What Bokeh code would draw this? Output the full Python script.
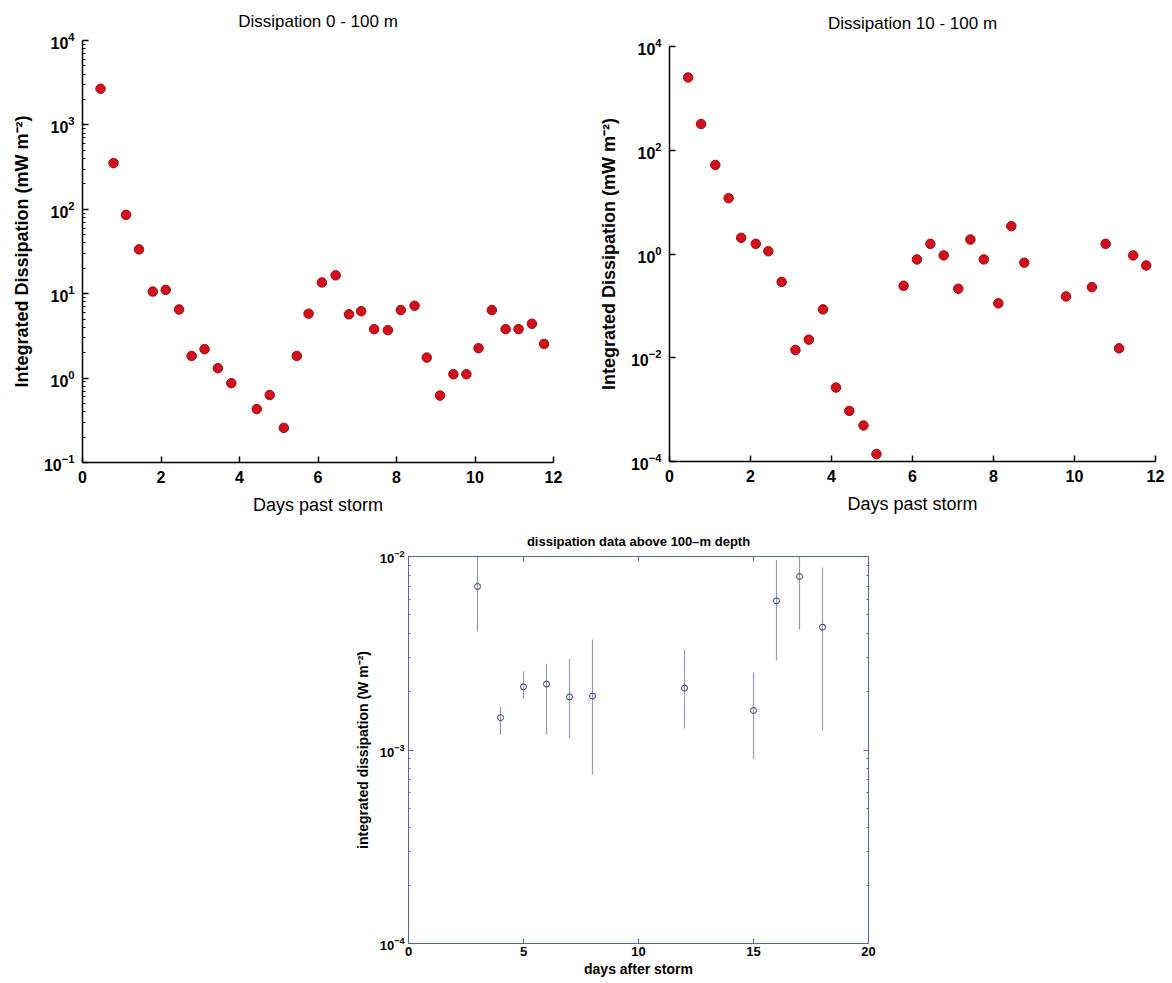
from bokeh.plotting import figure
from bokeh.models import FixedTicker, LogAxis, LinearAxis, Range1d, Spacer, CustomJSTickFormatter
from bokeh.layouts import column, row
from bokeh.embed import file_html
from bokeh.resources import INLINE

# ---------------- data ----------------
days_0_100 = [0.46, 0.79, 1.11, 1.44, 1.79, 2.12, 2.46, 2.78, 3.11, 3.45, 3.79, 4.44, 4.77,
              5.13, 5.46, 5.76, 6.10, 6.45, 6.79, 7.10, 7.43, 7.78, 8.11, 8.46, 8.77, 9.11,
              9.45, 9.78, 10.09, 10.43, 10.78, 11.11, 11.45, 11.76]
diss_0_100 = [2680, 353, 86, 33.5, 10.6, 11.1, 6.5, 1.83, 2.2, 1.31, 0.87, 0.43, 0.63,
              0.257, 1.83, 5.8, 13.6, 16.5, 5.7, 6.2, 3.8, 3.7, 6.4, 7.2, 1.75, 0.62,
              1.11, 1.11, 2.26, 6.4, 3.8, 3.8, 4.4, 2.54]

days_10_100 = [0.46, 0.78, 1.13, 1.46, 1.77, 2.13, 2.44, 2.77, 3.11, 3.44, 3.79, 4.11, 4.44,
               4.79, 5.11, 5.78, 6.11, 6.44, 6.77, 7.13, 7.43, 7.76, 8.12, 8.44, 8.76, 9.79,
               10.43, 10.77, 11.10, 11.45, 11.77]
diss_10_100 = [2530, 320, 52, 11.9, 2.05, 1.57, 1.13, 0.29, 0.0141, 0.0223, 0.0857, 0.00266,
               0.000946, 0.000494, 0.000139, 0.244, 0.785, 1.57, 0.94, 0.214, 1.9, 0.785,
               0.112, 3.44, 0.68, 0.152, 0.23, 1.57, 0.0152, 0.94, 0.60]

days_after = [3, 4, 5, 6, 7, 8, 12, 15, 16, 17, 18]
diss_mean = [0.0070, 0.00147, 0.00212, 0.00219, 0.00188, 0.00190, 0.00209, 0.00160, 0.00590, 0.00788, 0.00431]
diss_low = [0.0041, 0.00120, 0.00184, 0.00120, 0.00115, 0.000748, 0.00129, 0.00090, 0.00290, 0.00419, 0.00126]
diss_high = [0.012, 0.00167, 0.00255, 0.00279, 0.00296, 0.00372, 0.00330, 0.00252, 0.0096, 0.012, 0.00877]

x_ticks_top = [0, 2, 4, 6, 8, 10, 12]
y_ticks_left = [1e-1, 1e0, 1e1, 1e2, 1e3, 1e4]
y_ticks_right = [1e-4, 1e-2, 1e0, 1e2, 1e4]
x_ticks_bottom = [0, 5, 10, 15, 20]
y_ticks_bottom = [1e-4, 1e-3, 1e-2]

FONT = "Liberation Sans"
RED = "#d2101b"


def minor_log(lo_exp, hi_exp):
    return [k * 10.0 ** e for e in range(lo_exp, hi_exp) for k in range(2, 10)]


def style_axis(ax, size, color="black", width=1.5, tick_in=6, minor_in=3, standoff=8):
    ax.axis_line_color = color
    ax.axis_line_width = width
    ax.major_tick_line_color = color
    ax.minor_tick_line_color = color
    ax.major_tick_line_width = width
    ax.major_tick_in = tick_in
    ax.major_tick_out = 0
    ax.minor_tick_in = minor_in
    ax.minor_tick_out = 0
    ax.major_label_text_font = FONT
    ax.major_label_text_font_style = "bold"
    ax.major_label_text_font_size = size
    ax.major_label_text_color = "black"
    ax.major_label_standoff = standoff
    ax.axis_label_text_font = FONT
    ax.axis_label_text_color = "black"


def top_panel(title, days, vals, y_lo, y_hi, y_ticks, y_minor, width, height, bl, br, bt, bb, ts):
    p = figure(width=width, height=height, x_range=Range1d(0, 12), y_range=Range1d(y_lo, y_hi),
               y_axis_type="log", output_backend="svg", toolbar_location=None,
               min_border_left=bl, min_border_right=br, min_border_top=bt, min_border_bottom=bb)
    p.outline_line_color = None
    p.grid.visible = False
    p.background_fill_color = "white"
    p.border_fill_color = "white"
    p.title.text = title
    p.title.align = "center"
    p.title.vertical_align = "top"
    p.title.text_font = FONT
    p.title.text_font_style = "normal"
    p.title.text_font_size = "17px"
    p.title.text_color = "black"
    p.title.standoff = ts
    xa = p.xaxis[0]
    ya = p.yaxis[0]
    style_axis(xa, "16px")
    style_axis(ya, "16px")
    xa.ticker = FixedTicker(ticks=x_ticks_top)
    ya.ticker = FixedTicker(ticks=y_ticks, minor_ticks=y_minor)
    xa.axis_label = "Days past storm"
    xa.axis_label_text_font_style = "normal"
    xa.axis_label_text_font_size = "18px"
    xa.axis_label_standoff = 9
    ya.axis_label = "Integrated Dissipation (mW m\u207b\u00b2)"
    ya.axis_label_text_font_style = "bold"
    ya.axis_label_text_font_size = "18px"
    ya.axis_label_standoff = 9
    p.scatter(days, vals, size=9.5, marker="circle", fill_color=RED, line_color="#a00b14", line_width=1)
    return p


p1 = top_panel("Dissipation 0 - 100 m", days_0_100, diss_0_100, 1e-1, 1e4,
               y_ticks_left, minor_log(-1, 4), 590, 520, 82, 37, 40, 58, 16)
p2 = top_panel("Dissipation 10 - 100 m", days_10_100, diss_10_100, 1e-4, 1e4,
               y_ticks_right, [], 582, 520, 79, 17, 46, 59, 24)

# ---------------- bottom panel ----------------
BLUE = "#5565a8"
p3 = figure(width=558, height=463, x_range=Range1d(0, 20), y_range=Range1d(1e-4, 1e-2),
            y_axis_type="log", output_backend="svg", toolbar_location=None,
            min_border_left=68, min_border_right=30, min_border_top=36, min_border_bottom=40)
p3.grid.visible = False
p3.outline_line_color = BLUE
p3.outline_line_width = 1
p3.background_fill_color = "white"
p3.border_fill_color = "white"
p3.title.text = "dissipation data above 100\u2013m depth"
p3.title.align = "center"
p3.title.text_font = FONT
p3.title.text_font_style = "bold"
p3.title.text_font_size = "13px"
p3.title.text_color = "black"
p3.title.standoff = 16

bx = p3.xaxis[0]
by = p3.yaxis[0]
style_axis(bx, "13px", color=BLUE, width=1, tick_in=5, minor_in=2, standoff=3)
style_axis(by, "13px", color=BLUE, width=1, tick_in=5, minor_in=2, standoff=4)
bx.ticker = FixedTicker(ticks=x_ticks_bottom)
by.ticker = FixedTicker(ticks=y_ticks_bottom, minor_ticks=minor_log(-4, -2))
bx.axis_label = "days after storm"
bx.axis_label_text_font_style = "bold"
bx.axis_label_text_font_size = "14px"
bx.axis_label_standoff = 2
by.axis_label = "integrated dissipation (W m\u207b\u00b2)"
by.axis_label_text_font_style = "bold"
by.axis_label_text_font_size = "14px"
by.axis_label_standoff = 6

blank = CustomJSTickFormatter(code="return ''")
ra = LogAxis(ticker=FixedTicker(ticks=y_ticks_bottom, minor_ticks=minor_log(-4, -2)), formatter=blank)
ta = LinearAxis(ticker=FixedTicker(ticks=x_ticks_bottom), formatter=blank)
for ax in (ra, ta):
    style_axis(ax, "1px", color=BLUE, width=1, tick_in=5, minor_in=2, standoff=0)
p3.add_layout(ra, "right")
p3.add_layout(ta, "above")

p3.segment(x0=days_after, y0=diss_low, x1=days_after, y1=diss_high, line_color="#959aae", line_width=1.2)
p3.scatter(days_after, diss_mean, size=6, marker="circle", fill_color=None, line_color="#2e3a6e", line_width=1)

layout = column(row(p1, column(p2)),
                row(Spacer(width=340, height=463), p3))

open("out.html", "w").write(file_html(layout, INLINE))
